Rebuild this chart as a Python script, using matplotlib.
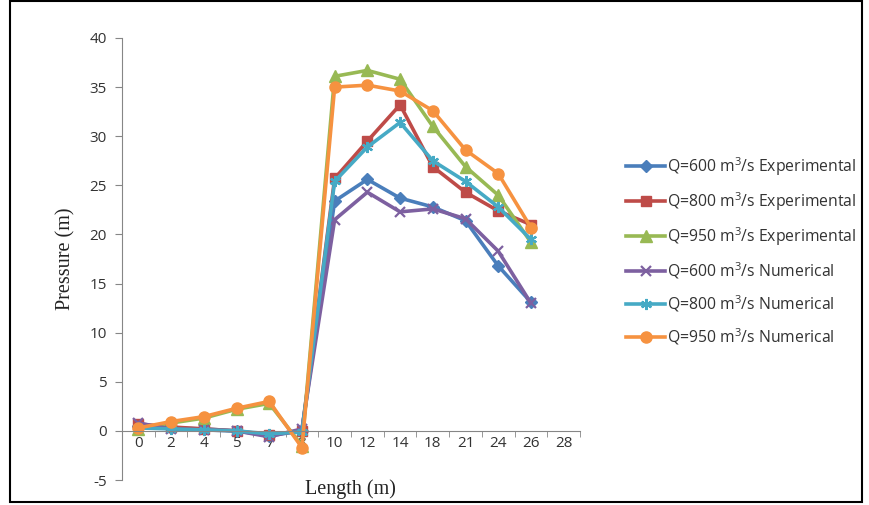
import matplotlib
matplotlib.use("Agg")
import matplotlib.pyplot as plt
from matplotlib.patches import Rectangle

categories = ["0", "2", "4", "5", "7", "8", "10", "12", "14", "18", "21", "24", "26", "28"]

q600_exp = [0.5, 0.3, 0.2, 0.0, -0.5, 0.0, 23.4, 25.6, 23.7, 22.8, 21.4, 16.8, 13.1]
q800_exp = [0.7, 0.4, 0.2, 0.0, -0.4, 0.0, 25.7, 29.5, 33.2, 26.9, 24.3, 22.4, 21.0]
q950_exp = [0.2, 0.8, 1.3, 2.2, 2.8, -1.5, 36.1, 36.7, 35.8, 31.0, 26.9, 24.0, 19.2]
q600_num = [0.8, 0.2, 0.1, 0.0, -0.6, 0.2, 21.5, 24.3, 22.3, 22.6, 21.6, 18.3, 13.0]
q800_num = [0.3, 0.2, 0.1, 0.0, -0.3, -0.1, 25.4, 28.9, 31.4, 27.5, 25.4, 22.8, 19.5]
q950_num = [0.3, 0.95, 1.45, 2.3, 3.0, -1.7, 35.0, 35.2, 34.6, 32.6, 28.6, 26.2, 20.7]

labels = [
    "Q=600 m$^3$/s Experimental",
    "Q=800 m$^3$/s Experimental",
    "Q=950 m$^3$/s Experimental",
    "Q=600 m$^3$/s Numerical",
    "Q=800 m$^3$/s Numerical",
    "Q=950 m$^3$/s Numerical",
]
series = [q600_exp, q800_exp, q950_exp, q600_num, q800_num, q950_num]
colors = ["#4A7EBB", "#BE4B48", "#98B954", "#7D60A0", "#46AAC5", "#F69240"]
markers = ["D", "s", "^", "x", (6, 2, 0), "o"]
msizes = [6, 7, 8, 7, 8, 8]

plt.rcParams["font.family"] = ["Open Sans", "DejaVu Sans"]
plt.rcParams["mathtext.fontset"] = "custom"
plt.rcParams["mathtext.rm"] = "Open Sans"
plt.rcParams["axes.unicode_minus"] = False

fig = plt.figure(figsize=(8.69, 5.05), dpi=100)
ax = fig.add_axes([122 / 869, 1 - 480 / 505, (580 - 122) / 869, (480 - 38) / 505])

x = list(range(len(q600_exp)))
for y, c, m, ms, lab in zip(series, colors, markers, msizes, labels):
    ax.plot(x, y, color=c, lw=2.6, marker=m, markersize=ms, markerfacecolor=c,
            markeredgecolor=c, markeredgewidth=1.6 if m == "x" or isinstance(m, tuple) else 1.0,
            label=lab, solid_joinstyle="round")

ax.set_xlim(-0.5, len(categories) - 0.5)
ax.set_ylim(-5, 40)
ax.set_yticks(range(-5, 41, 5))
ax.set_xticks(range(len(categories)))
ax.set_xticklabels(categories)
ax.set_xticks([i - 0.5 for i in range(len(categories) + 1)], minor=True)

for s in ["top", "right"]:
    ax.spines[s].set_visible(False)
ax.spines["bottom"].set_position(("data", 0))
ax.spines["left"].set_color("#868686")
ax.spines["bottom"].set_color("#868686")
ax.tick_params(axis="y", direction="out", length=5, color="#868686", labelsize=11, pad=6, labelcolor="#333333")
ax.tick_params(axis="x", which="major", length=0, labelsize=11, pad=4, labelcolor="#333333")
ax.tick_params(axis="x", which="minor", direction="out", length=4, color="#868686")

ax.set_ylabel("Pressure (m)", family=["Liberation Serif"], fontsize=14.5, color="#222222", labelpad=10)
fig.text(0.403, 0.032, "Length (m)", family=["Liberation Serif"], fontsize=14.5, color="#222222", ha="center", va="center")

leg = fig.legend(loc="upper left", bbox_to_anchor=(626 / 869, 1 - 155 / 505), frameon=False,
                 fontsize=11.3, handlelength=2.5, handletextpad=0.1, labelspacing=0.79,
                 borderaxespad=0, borderpad=0)
for t in leg.get_texts():
    t.set_color("#333333")

fig.patches.append(Rectangle((10 / 869, 3 / 505), 852 / 869, 0.999 - 3 / 505, transform=fig.transFigure,
                             fill=False, edgecolor="black", lw=1.5))

fig.savefig("out.png", dpi=100)
